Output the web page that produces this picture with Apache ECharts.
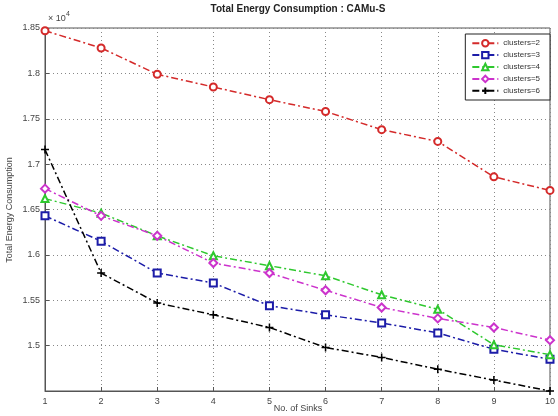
<!DOCTYPE html>
<html><head><meta charset="utf-8">
<script src="https://cdn.jsdelivr.net/npm/echarts@6/dist/echarts.min.js"></script>
<style>html,body{margin:0;padding:0;background:#fff}#c{width:558px;height:416px}</style>
</head><body><div id="c"></div>
<script>
const sinks = [1,2,3,4,5,6,7,8,9,10];
const clusters2 = [1.847,1.828,1.799,1.785,1.771,1.758,1.738,1.725,1.686,1.671];
const clusters3 = [1.643,1.615,1.580,1.569,1.544,1.534,1.525,1.514,1.496,1.485];
const clusters4 = [1.662,1.646,1.621,1.599,1.588,1.577,1.556,1.540,1.501,1.490];
const clusters5 = [1.673,1.643,1.621,1.591,1.580,1.561,1.542,1.530,1.520,1.506];
const clusters6 = [1.716,1.580,1.547,1.534,1.520,1.498,1.487,1.474,1.462,1.450];
const seriesNames = ['clusters=2','clusters=3','clusters=4','clusters=5','clusters=6'];
const yTickLabels = ['1.5','1.55','1.6','1.65','1.7','1.75','1.8','1.85'];

const colors = ['#d42a2a','#1c1ca8','#2ec82e','#cc33cc','#000000'];
const symbols = ['emptyCircle','emptyRect','emptyTriangle','emptyDiamond','path://M-1,0H1M0,-1V1'];
const sizes = [7,7,7,8,8];
const data = [clusters2,clusters3,clusters4,clusters5,clusters6];

const series = data.map((vals,i)=>({
  name: seriesNames[i],
  type: 'line',
  data: sinks.map((x,j)=>[x, vals[j]]),
  symbol: symbols[i],
  symbolSize: sizes[i],
  showAllSymbol: true,
  lineStyle: {color: colors[i], width: 1.5, type: [7,3,2,3]},
  itemStyle: {color: colors[i], borderColor: colors[i], borderWidth: 1.5},
  emphasis: {disabled: true},
  animation: false,
  z: 3
}));

const chart = echarts.init(document.getElementById('c'), null, {renderer:'canvas'});
chart.setOption({
  animation: false,
  backgroundColor: '#fff',
  grid: {left: 45, right: 6, top: 28, bottom: 25, containLabel: false, show: true, borderColor: '#555', borderWidth: 1},
  xAxis: {
    type: 'value', min: 1, max: 10, interval: 1,
    axisLine: {show: true, lineStyle: {color: '#555'}},
    axisTick: {show: true, inside: true, length: 4, lineStyle: {color: '#555'}},
    axisLabel: {color: '#444', fontSize: 9, fontFamily: 'Liberation Sans', margin: 6},
    splitLine: {show: true, lineStyle: {color: '#888', type: [1,3], width: 1}}
  },
  yAxis: {
    type: 'value', min: 1.45, max: 1.85, interval: 0.05,
    axisLine: {show: true, lineStyle: {color: '#555'}},
    axisTick: {show: true, inside: true, length: 4, lineStyle: {color: '#555'}},
    axisLabel: {color: '#444', fontSize: 9, fontFamily: 'Liberation Sans', margin: 5, showMinLabel: false,
      formatter: v => { const s = String(parseFloat(v.toFixed(2))); return yTickLabels.includes(s) ? s : ''; }},
    splitLine: {show: true, lineStyle: {color: '#888', type: [1,3], width: 1}}
  },
  legend: {
    orient: 'vertical', right: 8, top: 34,
    data: seriesNames,
    itemWidth: 26, itemHeight: 8, itemGap: 3.5,
    textStyle: {fontSize: 8, color: '#333', fontFamily: 'Liberation Sans'},
    borderColor: '#222', borderWidth: 1, padding: [5, 10, 5, 6],
    backgroundColor: '#fff'
  },
  graphic: [
    {type: 'text', x: 298, y: 9, style: {text: 'Total Energy Consumption : CAMu-S', font: 'bold 10px Liberation Sans', fill: '#222', textAlign: 'center', textVerticalAlign: 'middle'}},
    {type: 'text', x: 48, y: 19, style: {text: '× 10', font: '9px Liberation Sans', fill: '#444', textVerticalAlign: 'middle'}},
    {type: 'text', x: 66, y: 14, style: {text: '4', font: '7px Liberation Sans', fill: '#444', textVerticalAlign: 'middle'}},
    {type: 'text', x: 298, y: 409, style: {text: 'No. of Sinks', font: '9px Liberation Sans', fill: '#444', textAlign: 'center', textVerticalAlign: 'middle'}},
    {type: 'text', x: 10, y: 210, rotation: Math.PI/2, style: {text: 'Total Energy Consumption', font: '9px Liberation Sans', fill: '#444', textAlign: 'center', textVerticalAlign: 'middle'}}
  ],
  series: series
});
</script>
</body></html>
